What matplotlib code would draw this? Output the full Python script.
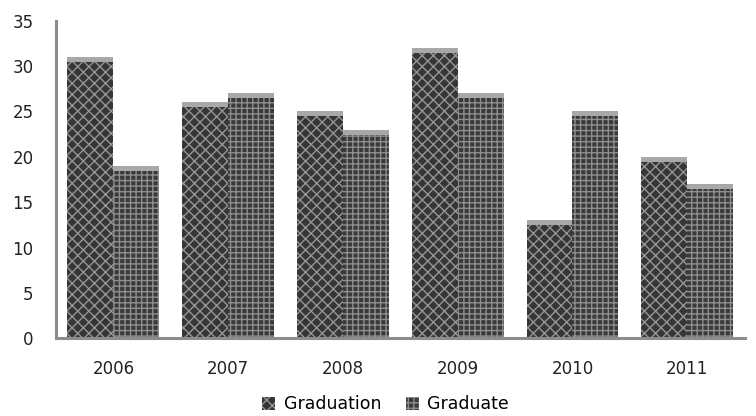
import numpy as np
import matplotlib.pyplot as plt

years = ['2006', '2007', '2008', '2009', '2010', '2011']
graduation = [31, 26, 25, 32, 13, 20]
graduate = [19, 27, 23, 27, 25, 17]

plt.rcParams['font.family'] = ['DejaVu Sans']
plt.rcParams['hatch.linewidth'] = 1.0

fig = plt.figure(figsize=(7.56, 4.16), dpi=100)
ax = fig.add_axes([0.074, 0.187, 0.911, 0.763])

x = np.arange(len(years))
w = 0.40

ax.bar(x - w / 2, graduation, w, color='#363636', edgecolor='#959595',
       hatch='xxx', linewidth=0, label='Graduation')
ax.bar(x + w / 2, graduate, w, color='#3a3a3a', edgecolor='#8e8e8e',
       hatch='+++', linewidth=0, label='Graduate')

# light bevel on the top of each bar
cap = 0.55
ax.bar(x - w / 2, [cap] * len(x), w, bottom=np.array(graduation) - cap,
       color='#a8a8a8', linewidth=0)
ax.bar(x + w / 2, [cap] * len(x), w, bottom=np.array(graduate) - cap,
       color='#a8a8a8', linewidth=0)

ax.set_xlim(-0.5, len(years) - 0.5)
ax.set_ylim(0, 35)
ax.set_yticks(range(0, 36, 5))
ax.set_xticks(x)
ax.set_xticklabels(years)
ax.tick_params(axis='both', length=0, labelsize=12, colors='#222222')
ax.tick_params(axis='x', pad=16)
ax.tick_params(axis='y', pad=16)

for s in ['top', 'right']:
    ax.spines[s].set_visible(False)
for s in ['left', 'bottom']:
    ax.spines[s].set_color('#8c8c8c')
    ax.spines[s].set_linewidth(2.2)

fig.legend(*ax.get_legend_handles_labels(), loc='center',
           bbox_to_anchor=(0.51, 0.028), ncol=2, frameon=False,
           fontsize=12.5, handlelength=0.75, handleheight=0.75,
           handletextpad=0.5, columnspacing=1.4)

fig.savefig('out.png', dpi=100)
